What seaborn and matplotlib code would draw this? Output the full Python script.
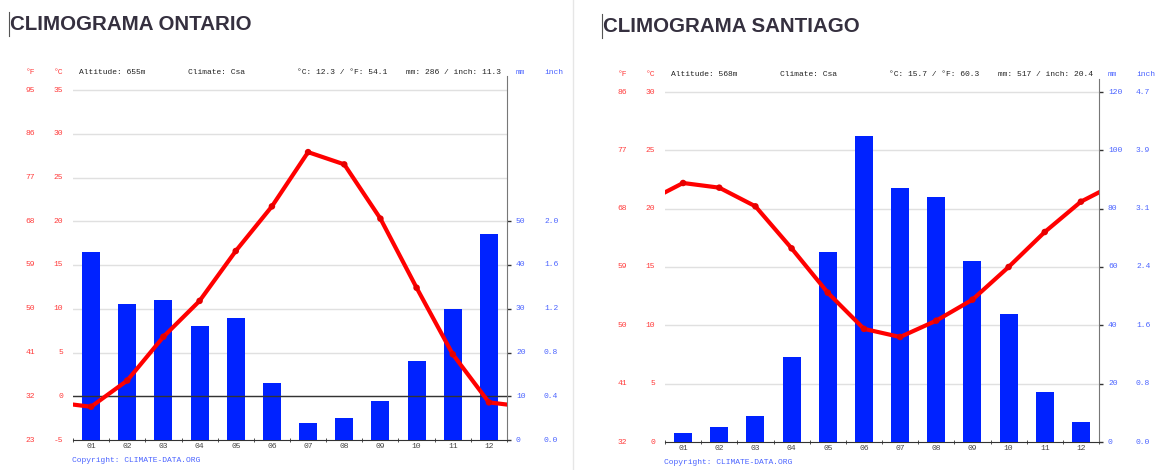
import numpy as np
import pandas as pd
import matplotlib
matplotlib.use("Agg")
import matplotlib.pyplot as plt
import matplotlib.transforms as mtransforms
import seaborn as sns

# DATA
months = ["01", "02", "03", "04", "05", "06", "07", "08", "09", "10", "11", "12"]

ontario_temp = [-1.2, 1.8, 6.8, 10.9, 16.6, 21.7, 27.9, 26.5, 20.3, 12.4, 4.8, -0.7]
ontario_prec = [43, 31, 32, 26, 28, 13, 4, 5, 9, 18, 30, 47]

santiago_temp = [22.2, 21.8, 20.2, 16.6, 12.8, 9.7, 9.0, 10.4, 12.2, 15.0, 18.0, 20.6]
santiago_prec = [3, 5, 9, 29, 65, 105, 87, 84, 62, 44, 17, 7]

ontario_c_ticks = [-5, 0, 5, 10, 15, 20, 25, 30, 35]
ontario_f_labels = ["23", "32", "41", "50", "59", "68", "77", "86", "95"]
ontario_mm_ticks = [0, 10, 20, 30, 40, 50]
ontario_inch_labels = ["0.0", "0.4", "0.8", "1.2", "1.6", "2.0"]

santiago_c_ticks = [0, 5, 10, 15, 20, 25, 30]
santiago_f_labels = ["32", "41", "50", "59", "68", "77", "86"]
santiago_mm_ticks = [0, 20, 40, 60, 80, 100, 120]
santiago_inch_labels = ["0.0", "0.8", "1.6", "2.4", "3.1", "3.9", "4.7"]

ontario_info = ["Altitude: 655m", "Climate: Csa", "°C: 12.3 / °F: 54.1", "mm: 286 / inch: 11.3"]
santiago_info = ["Altitude: 568m", "Climate: Csa", "°C: 15.7 / °F: 60.3", "mm: 517 / inch: 20.4"]

W, H = 1156, 470
RED = "#ff0000"
RED_TXT = "#ff3b3b"
BLUE_BAR = "#0022ff"
BLUE_TXT = "#4a63ff"
MONO = ["Liberation Mono", "DejaVu Sans Mono"]
FS = 5.8

fig = plt.figure(figsize=(W / 100, H / 100), dpi=100)


def fx(px):
    return px / W


def fy(py):
    return 1 - py / H


def draw(title, title_x, title_y, left, right, grid_top_px, top_px, bottom_px,
         temp_lo, temp_hi, mm_per_deg, temps, prec, c_ticks, f_labels, mm_ticks,
         inch_labels, info, header_y, zero_line, copy_y):
    # temperature at the top edge of the axes (spine goes a bit above top grid)
    px_deg = (bottom_px - grid_top_px) / (temp_hi - temp_lo)
    t_top = temp_hi + (grid_top_px - top_px) / px_deg

    ax_p = fig.add_axes([fx(left), fy(bottom_px), fx(right - left), (bottom_px - top_px) / H])
    df = pd.DataFrame({"month": months, "prec": prec})
    sns.barplot(data=df, x="month", y="prec", ax=ax_p, color=BLUE_BAR,
                saturation=1, width=0.5, zorder=3)
    ax_p.set_ylim(0, (t_top - temp_lo) * mm_per_deg)

    ax_t = ax_p.twinx()
    ax_t.set_ylim(temp_lo, t_top)

    # grid lines (on precipitation axis so bars sit on top)
    for c in c_ticks[1:]:
        ax_p.axhline((c - temp_lo) * mm_per_deg, color="#e0e0e0", lw=1, zorder=1)
    if zero_line:
        ax_t.axhline(0, color="#333333", lw=1, zorder=2)

    # temperature line, extended to both edges with the Dec/Jan mean
    edge = (temps[0] + temps[-1]) / 2
    xs = [-0.5] + list(range(12)) + [11.5]
    ys = [edge] + list(temps) + [edge]
    line_df = pd.DataFrame({"x": xs, "t": ys})
    sns.lineplot(data=line_df, x="x", y="t", ax=ax_t, color=RED, lw=3, sort=False,
                 zorder=5)
    sns.scatterplot(x=list(range(12)), y=temps, ax=ax_t, color="#e60000", s=22,
                    edgecolor="none", zorder=6)

    for a in (ax_p, ax_t):
        a.set_xlim(-0.5, 11.5)
        a.set_xlabel("")
        a.set_ylabel("")
        a.spines["top"].set_visible(False)
        a.spines["left"].set_visible(False)
        a.patch.set_visible(False)
    ax_t.spines["right"].set_visible(False)
    ax_t.spines["bottom"].set_visible(False)
    ax_p.spines["right"].set_color("#777777")
    ax_p.spines["bottom"].set_color("#333333")

    ax_t.set_yticks([])
    ax_p.yaxis.tick_right()
    ax_p.set_yticks(mm_ticks)
    ax_p.tick_params(axis="y", length=3, width=1, color="#333333", labelright=False)

    ax_p.set_xticks(range(12))
    ax_p.set_xticklabels(months, fontfamily=MONO, fontsize=FS, color="#444444")
    ax_p.tick_params(axis="x", length=0, pad=2)
    ax_p.set_xticks(np.arange(-0.5, 12, 1), minor=True)
    ax_p.tick_params(axis="x", which="minor", length=3, direction="inout", color="#333333")

    # left labels (°F and °C)
    tr_t = mtransforms.blended_transform_factory(fig.transFigure, ax_t.transData)
    for c, f in zip(c_ticks, f_labels):
        fig.text(fx(left - 10), c, str(c), transform=tr_t, ha="right", va="center",
                 fontsize=FS, family=MONO, color=RED_TXT)
        fig.text(fx(left - 38), c, f, transform=tr_t, ha="right", va="center",
                 fontsize=FS, family=MONO, color=RED_TXT)
    # right labels (mm and inch)
    tr_p = mtransforms.blended_transform_factory(fig.transFigure, ax_p.transData)
    for m, inch in zip(mm_ticks, inch_labels):
        fig.text(fx(right + 9), m, str(m), transform=tr_p, ha="left", va="center",
                 fontsize=FS, family=MONO, color=BLUE_TXT)
        fig.text(fx(right + 37), m, inch, transform=tr_p, ha="left", va="center",
                 fontsize=FS, family=MONO, color=BLUE_TXT)

    # header row
    fig.text(fx(left - 38), fy(header_y), "°F", ha="right", va="center", fontsize=FS,
             family=MONO, color=RED_TXT)
    fig.text(fx(left - 10), fy(header_y), "°C", ha="right", va="center", fontsize=FS,
             family=MONO, color=RED_TXT)
    for i, s in enumerate(info):
        fig.text(fx(left + 6 + 109 * i), fy(header_y), s, ha="left", va="center",
                 fontsize=FS, family=MONO, color="#222222")
    fig.text(fx(right + 9), fy(header_y), "mm", ha="left", va="center", fontsize=FS,
             family=MONO, color=BLUE_TXT)
    fig.text(fx(right + 37), fy(header_y), "inch", ha="left", va="center", fontsize=FS,
             family=MONO, color=BLUE_TXT)

    fig.text(fx(left - 1), fy(copy_y), "Copyright: CLIMATE-DATA.ORG", ha="left",
             va="center", fontsize=FS, family=MONO, color=BLUE_TXT)

    # title with the little cursor bar in front
    fig.text(fx(title_x), fy(title_y), title, ha="left", va="center", fontsize=14.8,
             fontweight="bold", family=["Liberation Sans", "DejaVu Sans"], color="#35303f")
    fig.add_artist(plt.Line2D([fx(title_x - 1), fx(title_x - 1)],
                              [fy(title_y - 12), fy(title_y + 12)],
                              transform=fig.transFigure, color="#555555", lw=0.8))


draw("CLIMOGRAMA ONTARIO", 10, 24, 73, 507, 90, 76, 440, -5, 35, 2,
     ontario_temp, ontario_prec, ontario_c_ticks, ontario_f_labels,
     ontario_mm_ticks, ontario_inch_labels, ontario_info, 72, True, 460)

draw("CLIMOGRAMA SANTIAGO", 603, 26, 665, 1099, 92, 79, 442, 0, 30, 4,
     santiago_temp, santiago_prec, santiago_c_ticks, santiago_f_labels,
     santiago_mm_ticks, santiago_inch_labels, santiago_info, 75, False, 462)

# separator between the two panels
fig.add_artist(plt.Line2D([fx(573), fx(573)], [0, 1], transform=fig.transFigure,
                          color="#e6e6e6", lw=1))

plt.savefig("out.png", dpi=100)
